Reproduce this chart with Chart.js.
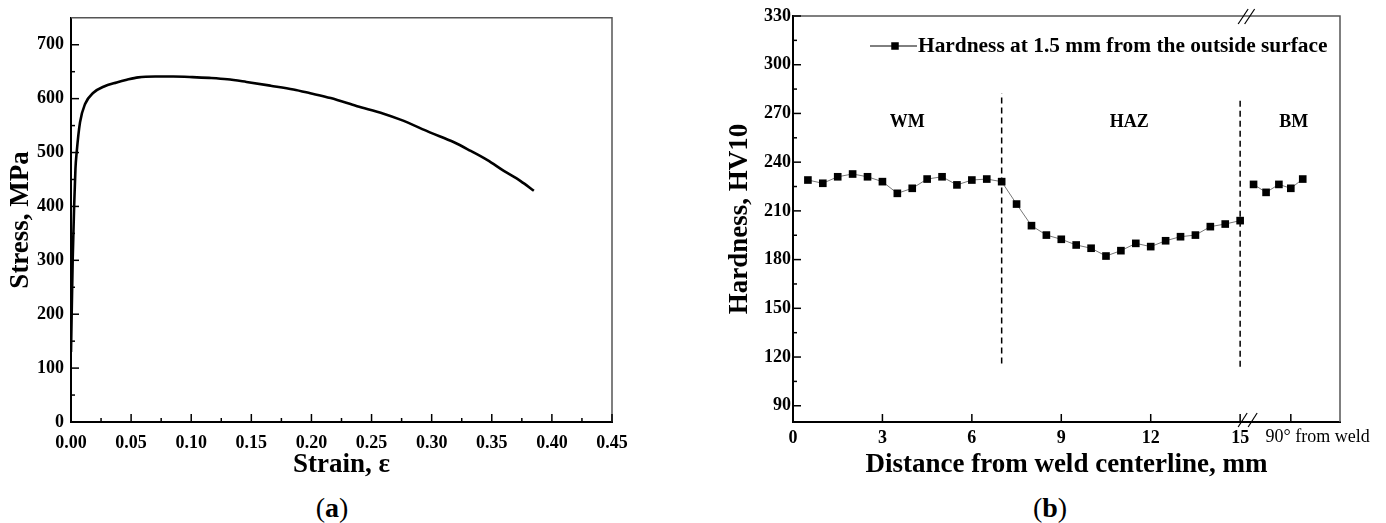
<!DOCTYPE html>
<html>
<head>
<meta charset="utf-8">
<script src="https://cdn.jsdelivr.net/npm/chart.js@4.4.0/dist/chart.umd.min.js"></script>
<style>
  html, body { margin: 0; padding: 0; background: #fff; }
  body { width: 1386px; height: 523px; position: relative; overflow: hidden; font-family: "Liberation Serif", "Times New Roman", serif; }
  canvas { position: absolute; top: 0; }
  #chartA { left: 0; }
  #chartB { left: 693px; }
  .cap { position: absolute; top: 493px; width: 80px; text-align: center; font-size: 28px; line-height: 30px; color: #000; }
</style>
</head>
<body>
<canvas id="chartA" width="693" height="490"></canvas>
<canvas id="chartB" width="693" height="490"></canvas>
<div class="cap" style="left:292px">(<b>a</b>)</div>
<div class="cap" style="left:1010px">(<b>b</b>)</div>
<script>
const FONT = '"Liberation Serif", "Times New Roman", serif';

// (a) tensile curve
const strain = [0, 0.0014, 0.0026, 0.0037, 0.0047, 0.0075, 0.0117, 0.0186, 0.027, 0.038,
  0.0464, 0.056, 0.070, 0.085, 0.101, 0.115, 0.130, 0.146, 0.166, 0.185,
  0.199, 0.216, 0.238, 0.260, 0.274, 0.299, 0.3186, 0.3325, 0.3464, 0.360, 0.374, 0.385];
const stress = [130, 300, 400, 470, 500, 556, 590, 611, 622, 630,
  635, 639.5, 641, 641, 640, 638.5, 636, 631, 624, 617,
  610, 601, 586, 572, 561, 537, 519, 503, 486, 466, 447, 429];
const xTicksA = [0, 0.05, 0.10, 0.15, 0.20, 0.25, 0.30, 0.35, 0.40, 0.45];
const xMinorA = [0.025, 0.075, 0.125, 0.175, 0.225, 0.275, 0.325, 0.375, 0.425];
const yTicksA = [0, 100, 200, 300, 400, 500, 600, 700];
const yMinorA = [50, 150, 250, 350, 450, 550, 650];

// (b) hardness profile
const distance = [0.5, 1, 1.5, 2, 2.5, 3, 3.5, 4, 4.5, 5, 5.5, 6, 6.5, 7, 7.5,
  8, 8.5, 9, 9.5, 10, 10.5, 11, 11.5, 12, 12.5, 13, 13.5, 14, 14.5, 15];
const hardness = [229, 227, 231, 232.7, 231, 228, 220.8, 223.9, 229.6, 231, 226, 229, 229.6, 228, 214.2,
  200.9, 195.1, 192.5, 189, 187, 182.2, 185.5, 190, 188, 191.6, 194.1, 195.1, 200.3, 201.9, 204];
// base metal, 90 deg from weld (placed after the axis break)
const bmPos = [15.45, 15.87, 16.3, 16.7, 17.1];
const bmHardness = [226.3, 221.4, 226.3, 223.9, 229.6];
const xTicksB = [0, 3, 6, 9, 12, 15];
const xExtraTickB = 16.7;
const yTicksB = [90, 120, 150, 180, 210, 240, 270, 300, 330];
const yMinorB = [105, 135, 165, 195, 225, 255, 285, 315];
const boundaryX = [7, 15];
const boundaryLow = [116, 114];
const boundaryHigh = [282.5, 280];
const regionNames = ['WM', 'HAZ', 'BM'];
const regionX = [3.83, 11.28, 16.8];
const regionY = 264.5;
const legendText = 'Hardness at 1.5 mm from the outside surface';

function seg(ctx, x1, y1, x2, y2) {
  ctx.beginPath(); ctx.moveTo(x1, y1); ctx.lineTo(x2, y2); ctx.stroke();
}

function drawFrame(chart, xMajor, xMinor, yMajor, yMinor) {
  const {ctx, chartArea: a, scales: {x, y}} = chart;
  ctx.strokeStyle = '#555';
  ctx.lineWidth = 1.5;
  ctx.beginPath();
  ctx.moveTo(a.left, a.top); ctx.lineTo(a.right, a.top); ctx.lineTo(a.right, a.bottom);
  ctx.stroke();
  // ticks point inwards
  ctx.strokeStyle = '#000';
  ctx.lineWidth = 1.5;
  xMajor.forEach(v => { const p = x.getPixelForValue(v); seg(ctx, p, a.bottom, p, a.bottom - 8); });
  xMinor.forEach(v => { const p = x.getPixelForValue(v); seg(ctx, p, a.bottom, p, a.bottom - 4); });
  yMajor.forEach(v => { const p = y.getPixelForValue(v); seg(ctx, a.left, p, a.left + 8, p); });
  yMinor.forEach(v => { const p = y.getPixelForValue(v); seg(ctx, a.left, p, a.left + 4, p); });
}

const decorA = {
  id: 'decorA',
  afterDraw(chart) {
    chart.ctx.save();
    drawFrame(chart, xTicksA, xMinorA, yTicksA, yMinorA);
    chart.ctx.restore();
  }
};

const decorB = {
  id: 'decorB',
  afterDraw(chart) {
    const {ctx, chartArea: a, scales: {x, y}} = chart;
    ctx.save();
    drawFrame(chart, xTicksB.concat([xExtraTickB]), [], yTicksB, yMinorB);

    // axis break marks
    const bx = x.getPixelForValue(15);
    ctx.lineWidth = 1.2;
    ctx.strokeStyle = '#000';
    seg(ctx, bx - 2, a.top + 8, bx + 8, a.top - 7);
    seg(ctx, bx + 4.5, a.top + 8, bx + 14.5, a.top - 7);
    seg(ctx, bx - 2, a.bottom + 5, bx + 7, a.bottom - 9);
    seg(ctx, bx + 8, a.bottom + 5, bx + 17, a.bottom - 9);

    // legend
    const lx = a.left + 77, ly = a.top + 30;
    ctx.lineWidth = 1;
    seg(ctx, lx, ly, lx + 47, ly);
    ctx.fillStyle = '#000';
    ctx.fillRect(lx + 25 - 3.75, ly - 3.75, 7.5, 7.5);
    ctx.font = 'bold 21.4px ' + FONT;
    ctx.textAlign = 'left';
    ctx.textBaseline = 'middle';
    ctx.fillText(legendText, lx + 48, ly);

    // region names
    ctx.font = 'bold 18px ' + FONT;
    ctx.textAlign = 'center';
    regionNames.forEach((n, i) => {
      ctx.fillText(n, x.getPixelForValue(regionX[i]), y.getPixelForValue(regionY));
    });

    // label of the part after the break
    ctx.font = '18px ' + FONT;
    ctx.fillText('90° from weld', x.getPixelForValue(17.6), a.bottom + 15);
    ctx.restore();
  }
};

const tickFont = {family: FONT, size: 18, weight: 'bold'};
const titleFont = {family: FONT, size: 27, weight: 'bold'};
const noGrid = {display: false, drawTicks: false};

new Chart(document.getElementById('chartA'), {
  type: 'scatter',
  data: {
    datasets: [{
      data: strain.map((s, i) => ({x: s, y: stress[i]})),
      showLine: true,
      borderColor: '#000',
      borderWidth: 2.6,
      pointRadius: 0,
      cubicInterpolationMode: 'monotone'
    }]
  },
  options: {
    responsive: false,
    animation: false,
    devicePixelRatio: 1,
    layout: {padding: {top: 16, right: 81, left: 0, bottom: 0}},
    plugins: {legend: {display: false}, tooltip: {enabled: false}},
    scales: {
      x: {
        type: 'linear', min: 0, max: 0.45,
        afterBuildTicks: s => { s.ticks = xTicksA.map(v => ({value: v})); },
        afterFit: s => { s.height = 68; },
        grid: noGrid,
        border: {display: true, color: '#000', width: 2},
        ticks: {autoSkip: false, maxRotation: 0, padding: 11, color: '#000', font: tickFont,
          callback: v => v.toFixed(2)},
        title: {display: true, text: 'Strain, ε', color: '#000', font: titleFont, padding: {top: 0, bottom: 9}}
      },
      y: {
        type: 'linear', min: 0, max: 750,
        afterBuildTicks: s => { s.ticks = yTicksA.map(v => ({value: v})); },
        afterFit: s => { s.width = 71; },
        grid: noGrid,
        border: {display: true, color: '#000', width: 2},
        ticks: {autoSkip: false, padding: 7, color: '#000', font: tickFont},
        title: {display: true, text: 'Stress, MPa', color: '#000', font: titleFont, padding: {top: 5, bottom: 0}}
      }
    }
  },
  plugins: [decorA]
});

const markerStyle = {
  showLine: true,
  borderColor: '#777',
  borderWidth: 1,
  pointStyle: 'rect',
  pointRadius: 5.4,
  pointBackgroundColor: '#000',
  pointBorderColor: '#000',
  pointBorderWidth: 0
};
const boundaryStyle = {
  showLine: true,
  borderColor: '#000',
  borderWidth: 1.5,
  borderDash: [6, 4],
  pointRadius: 0
};

new Chart(document.getElementById('chartB'), {
  type: 'scatter',
  data: {
    datasets: [
      Object.assign({data: distance.map((d, i) => ({x: d, y: hardness[i]}))}, markerStyle),
      Object.assign({data: bmPos.map((d, i) => ({x: d, y: bmHardness[i]}))}, markerStyle),
      Object.assign({data: [{x: boundaryX[0], y: boundaryLow[0]}, {x: boundaryX[0], y: boundaryHigh[0]}]}, boundaryStyle),
      Object.assign({data: [{x: boundaryX[1], y: boundaryLow[1]}, {x: boundaryX[1], y: boundaryHigh[1]}]}, boundaryStyle)
    ]
  },
  options: {
    responsive: false,
    animation: false,
    devicePixelRatio: 1,
    layout: {padding: {top: 16, right: 46, left: 0, bottom: 0}},
    plugins: {legend: {display: false}, tooltip: {enabled: false}},
    scales: {
      x: {
        type: 'linear', min: 0, max: 18.35,
        afterBuildTicks: s => { s.ticks = xTicksB.map(v => ({value: v})); },
        afterFit: s => { s.height = 68; },
        grid: noGrid,
        border: {display: true, color: '#000', width: 2},
        ticks: {autoSkip: false, maxRotation: 0, padding: 6, color: '#000', font: tickFont},
        title: {display: true, text: 'Distance from weld centerline, mm', color: '#000', font: titleFont, padding: {top: 0, bottom: 9}}
      },
      y: {
        type: 'linear', min: 80, max: 330,
        afterBuildTicks: s => { s.ticks = yTicksB.map(v => ({value: v})); },
        afterFit: s => { s.width = 100; },
        grid: noGrid,
        border: {display: true, color: '#000', width: 2},
        ticks: {autoSkip: false, padding: 2, color: '#000', font: tickFont},
        title: {display: true, text: 'Hardness, HV10', color: '#000', font: titleFont, padding: {top: 31, bottom: 0}}
      }
    }
  },
  plugins: [decorB]
});
</script>
</body>
</html>
